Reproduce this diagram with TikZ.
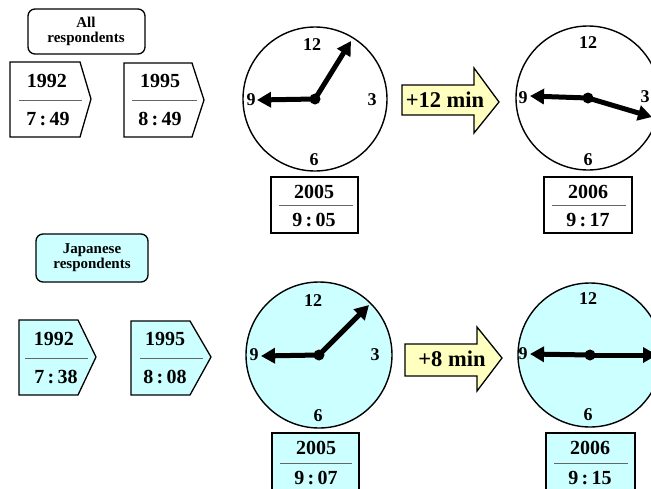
\documentclass[tikz,border=0pt]{standalone}
\usepackage{fontspec}
\setmainfont{Liberation Serif}
\usetikzlibrary{arrows.meta}
\definecolor{cyanfill}{HTML}{CCFFFF}
\definecolor{yelfill}{HTML}{FFFFC0}
\tikzset{
  outl/.style={draw=black, line width=1.3pt},
  clockface/.style={draw=black, line width=1.4pt},
  hand/.style={line width=5pt, -{Triangle[length=14pt,width=15pt]}},
  num/.style={font=\fontsize{18}{18}\selectfont\bfseries, inner sep=0pt},
  datetxt/.style={font=\fontsize{20}{20}\selectfont\bfseries, inner sep=0pt},
  arrtxt/.style={font=\fontsize{22.5}{22.5}\selectfont\bfseries, inner sep=0pt},
  grptxt/.style={font=\fontsize{15}{15}\selectfont\bfseries, align=center, inner sep=0pt},
  sep/.style={draw=black!60, line width=0.8pt},
}
\begin{document}
\begin{tikzpicture}[x=1pt,y=-1pt]
\useasboundingbox (0,0) rectangle (651,488);
\clip (0,0) rectangle (651,488);
\fill[white] (0,0) rectangle (651,488);

% ===== Top row: All respondents =====
\draw[outl, rounded corners=7pt] (28,9) rectangle (145,54);
\node[grptxt] (allg) at (86,31) {All\\respondents};

% pentagon tags
\draw[outl] (10,62) -- (80,62) -- (91,99) -- (80,137) -- (10,137) -- cycle;
\draw[sep] (19,100) -- (82,100);
\node[datetxt] (t92) at (47,81) {1992};
\node[datetxt] (t92v) at (48,119) {7\,:\,49};

\draw[outl] (124,63) -- (192,63) -- (204,100) -- (192,137) -- (124,137) -- cycle;
\draw[sep] (132,100) -- (197,100);
\node[datetxt] (t95) at (160,81) {1995};
\node[datetxt] (t95v) at (160,119) {8\,:\,49};

% clock 2005
\coordinate (c1) at (315,99);
\draw[clockface] (c1) circle (72pt);
\node[num] (c1n12) at (312,45) {12};
\node[num] (c1n3) at (372,100) {3};
\node[num] (c1n9) at (251,100) {9};
\node[num] (c1n6) at (314,160) {6};
\coordinate (c1m) at (351,41);
\coordinate (c1h) at (257,100);
\draw[hand] (c1) -- (c1h);
\draw[hand] (c1) -- (c1m);
\fill (c1) circle (5.5pt);

\draw[outl] (271,177) rectangle (358,233);
\draw[sep] (279,205) -- (353,205);
\node[datetxt] (t05) at (314,192) {2005};
\node[datetxt] (t05v) at (314,220) {9\,:\,05};

% arrow +12
\draw[outl, fill=yelfill] (402,85) -- (474,85) -- (474,68) -- (499,102) -- (474,133) -- (474,115) -- (402,115) -- cycle;
\node[arrtxt] (plus12) at (445,100) {+12 min};

% clock 2006
\coordinate (c2) at (588,98);
\draw[clockface] (c2) circle (72pt);
\node[num] (c2n12) at (588,43) {12};
\node[num] (c2n3) at (645,97) {3};
\node[num] (c2n9) at (523,98) {9};
\node[num] (c2n6) at (588,160) {6};
\coordinate (c2m) at (652,117);
\coordinate (c2h) at (530,96);
\draw[hand] (c2) -- (c2h);
\draw[hand] (c2) -- (c2m);
\fill (c2) circle (5.5pt);

\draw[outl] (544,177) rectangle (632,233);
\draw[sep] (552,205) -- (626,205);
\node[datetxt] (t06) at (588,192) {2006};
\node[datetxt] (t06v) at (588,220) {9\,:\,17};

% ===== Bottom row: Japanese respondents =====
\draw[outl, fill=cyanfill, rounded corners=7pt] (36,234) rectangle (148,282);
\node[grptxt] (jpg) at (92,258) {Japanese\\respondents};

\draw[outl, fill=cyanfill] (19,320) -- (78,320) -- (96,357) -- (78,395) -- (19,395) -- cycle;
\draw[sep] (25,358) -- (88,358);
\node[datetxt] (j92) at (54,339) {1992};
\node[datetxt] (j92v) at (56,377) {7\,:\,38};

\draw[outl, fill=cyanfill] (131,321) -- (190,321) -- (211,357) -- (190,395) -- (131,395) -- cycle;
\draw[sep] (140,358) -- (203,358);
\node[datetxt] (j95) at (165,339) {1995};
\node[datetxt] (j95v) at (165,377) {8\,:\,08};

% clock 2005 japanese
\coordinate (c3) at (319,355);
\draw[clockface, fill=cyanfill] (c3) circle (73pt);
\node[num] (c3n12) at (313,301) {12};
\node[num] (c3n3) at (375,355) {3};
\node[num] (c3n9) at (254,355) {9};
\node[num] (c3n6) at (318,416) {6};
\coordinate (c3m) at (369,305);
\coordinate (c3h) at (261,356);
\draw[hand] (c3) -- (c3h);
\draw[hand] (c3) -- (c3m);
\fill (c3) circle (5.5pt);

\draw[outl, fill=cyanfill] (272,433) rectangle (359,495);
\draw[sep] (280,463) -- (352,463);
\node[datetxt] (j05) at (316,448) {2005};
\node[datetxt] (j05v) at (316,478) {9\,:\,07};

% arrow +8
\draw[outl, fill=yelfill] (405,344) -- (477,344) -- (477,327) -- (502,358) -- (477,391) -- (477,376) -- (405,376) -- cycle;
\node[arrtxt] (plus8) at (452,359) {+8 min};

% clock 2006 japanese
\coordinate (c4) at (590,355);
\draw[clockface, fill=cyanfill] (c4) circle (72pt);
\node[num] (c4n12) at (588,299) {12};
\node[num] (c4n9) at (523,354) {9};
\node[num] (c4n6) at (588,415) {6};
\coordinate (c4m) at (657,355);
\coordinate (c4h) at (530,354);
\draw[hand] (c4) -- (c4h);
\draw[hand] (c4) -- (c4m);
\fill (c4) circle (5.5pt);

\draw[outl, fill=cyanfill] (546,433) rectangle (635,495);
\draw[sep] (554,463) -- (628,463);
\node[datetxt] (j06) at (590,448) {2006};
\node[datetxt] (j06v) at (590,478) {9\,:\,15};
\end{tikzpicture}
\end{document}
